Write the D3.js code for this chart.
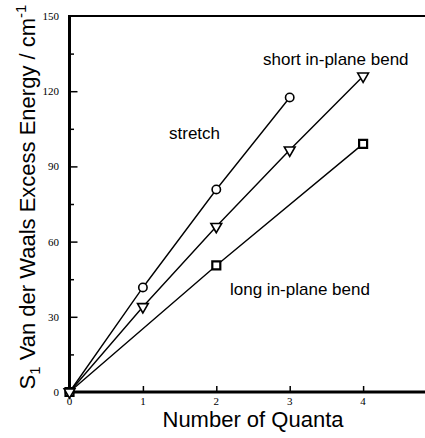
<!DOCTYPE html>
<html>
<head>
<meta charset="utf-8">
<script src="https://cdn.jsdelivr.net/npm/d3@7"></script>
<style>
  body { margin: 0; background: #fff; }
  svg { display: block; }
</style>
</head>
<body>
<div id="chart"></div>
<script>
// quanta (x) and excess energy in cm-1 (y)
var stretchQuanta = [0, 1, 2, 3];
var stretchEnergy = [0, 41.7, 80.8, 117.5];
var shortQuanta = [0, 1, 2, 3, 4];
var shortEnergy = [0, 34, 66, 96.5, 126];
var longQuanta = [0, 2, 4];
var longEnergy = [0, 50.5, 99];

var xTicks = [0, 1, 2, 3, 4];
var yTicks = [0, 30, 60, 90, 120, 150];
var yMinorTicks = [15, 45, 75, 105, 135];

var series = [
  { name: "stretch", x: stretchQuanta, y: stretchEnergy, mark: "circle" },
  { name: "long in-plane bend", x: longQuanta, y: longEnergy, mark: "square" },
  { name: "short in-plane bend", x: shortQuanta, y: shortEnergy, mark: "triangle" }
];

var width = 425, height = 438;

var svg = d3.select("#chart")
  .append("svg")
  .attr("width", width)
  .attr("height", height);

var x = d3.scaleLinear().domain([0, 5]).range([69.5, 436.5]);
var y = d3.scaleLinear().domain([0, 150]).range([392, 16]);

// data lines
var line = d3.line()
  .x(function(d) { return x(d[0]); })
  .y(function(d) { return y(d[1]); });

series.forEach(function(s) {
  var pts = s.x.map(function(v, i) { return [v, s.y[i]]; });
  svg.append("path")
    .datum(pts)
    .attr("d", line)
    .attr("fill", "none")
    .attr("stroke", "#000")
    .attr("stroke-width", 1.4);
});

// frame (right part runs off the page like in the scan)
svg.append("line")
  .attr("x1", x(0)).attr("x2", x(5))
  .attr("y1", y(150)).attr("y2", y(150))
  .attr("stroke", "#000").attr("stroke-width", 2.2);

// y axis with inward ticks
svg.append("g")
  .attr("transform", "translate(" + x(0) + ",0)")
  .call(d3.axisRight(y).tickValues(yTicks.filter(function(t) { return t > 0 && t < 150; })).tickSize(8).tickFormat(""))
  .call(function(g) { g.select(".domain").remove(); })
  .selectAll("line").attr("stroke-width", 1.5);

svg.append("g")
  .attr("transform", "translate(" + x(0) + ",0)")
  .call(d3.axisRight(y).tickValues(yMinorTicks).tickSize(4.5).tickFormat(""))
  .call(function(g) { g.select(".domain").remove(); })
  .selectAll("line").attr("stroke-width", 1.5);

// x axis with inward ticks
svg.append("g")
  .attr("transform", "translate(0," + y(0) + ")")
  .call(d3.axisTop(x).tickValues(xTicks.filter(function(t) { return t > 0; })).tickSize(6).tickFormat(""))
  .call(function(g) { g.select(".domain").remove(); })
  .selectAll("line").attr("stroke-width", 1.5);

svg.append("line")
  .attr("x1", x(0)).attr("x2", x(0))
  .attr("y1", y(150) - 1).attr("y2", y(0) + 1.5)
  .attr("stroke", "#000").attr("stroke-width", 3);

svg.append("line")
  .attr("x1", x(0) - 1.5).attr("x2", x(5))
  .attr("y1", y(0)).attr("y2", y(0))
  .attr("stroke", "#000").attr("stroke-width", 3);

// tick labels
svg.selectAll(".ylab")
  .data(yTicks)
  .enter()
  .append("text")
  .attr("class", "ylab")
  .attr("x", 59)
  .attr("y", function(d) { return y(d) + 4; })
  .attr("text-anchor", "end")
  .style("font-family", "'Liberation Serif', 'Times New Roman', serif")
  .style("font-size", "11px")
  .text(function(d) { return d; });

svg.selectAll(".xlab")
  .data(xTicks)
  .enter()
  .append("text")
  .attr("class", "xlab")
  .attr("x", function(d) { return x(d); })
  .attr("y", 405)
  .attr("text-anchor", "middle")
  .style("font-family", "'Liberation Serif', 'Times New Roman', serif")
  .style("font-size", "11px")
  .text(function(d) { return d; });

// markers
var sym = {
  circle: d3.symbol().type(d3.symbolCircle).size(55),
  square: d3.symbol().type(d3.symbolSquare).size(64),
  triangle: d3.symbol().type(d3.symbolTriangle).size(50)
};

series.forEach(function(s) {
  svg.selectAll(".m-" + s.mark)
    .data(s.x.map(function(v, i) { return [v, s.y[i]]; }))
    .enter()
    .append("path")
    .attr("class", "m-" + s.mark)
    .attr("d", sym[s.mark])
    .attr("transform", function(d) {
      var t = "translate(" + x(d[0]) + "," + y(d[1]) + ")";
      return s.mark == "triangle" ? t + " rotate(180)" : t;
    })
    .attr("fill", "#fff")
    .attr("stroke", "#000")
    .attr("stroke-width", s.mark == "square" ? 2.2 : 1.6);
});

// series labels
var labelFont = "'Liberation Sans', Arial, Helvetica, sans-serif";
var labels = [
  { text: "stretch", lx: 169, ly: 139 },
  { text: "short in-plane bend", lx: 263, ly: 65 },
  { text: "long in-plane bend", lx: 230, ly: 295 }
];
svg.selectAll(".slab")
  .data(labels)
  .enter()
  .append("text")
  .attr("class", "slab")
  .attr("x", function(d) { return d.lx; })
  .attr("y", function(d) { return d.ly; })
  .style("font-family", labelFont)
  .style("font-size", "17px")
  .text(function(d) { return d.text; });

// axis titles
svg.append("text")
  .attr("x", 253)
  .attr("y", 427)
  .attr("text-anchor", "middle")
  .style("font-family", labelFont)
  .style("font-size", "22px")
  .text("Number of Quanta");

var yt = svg.append("text")
  .attr("transform", "translate(35,197) rotate(-90)")
  .attr("text-anchor", "middle")
  .style("font-family", labelFont)
  .style("font-size", "22px");
yt.append("tspan").text("S");
yt.append("tspan").attr("dy", 5).style("font-size", "15px").text("1");
yt.append("tspan").attr("dy", -5).text(" Van der Waals Excess Energy / cm");
yt.append("tspan").attr("dy", -9).style("font-size", "15px").text("-1");
</script>
</body>
</html>
